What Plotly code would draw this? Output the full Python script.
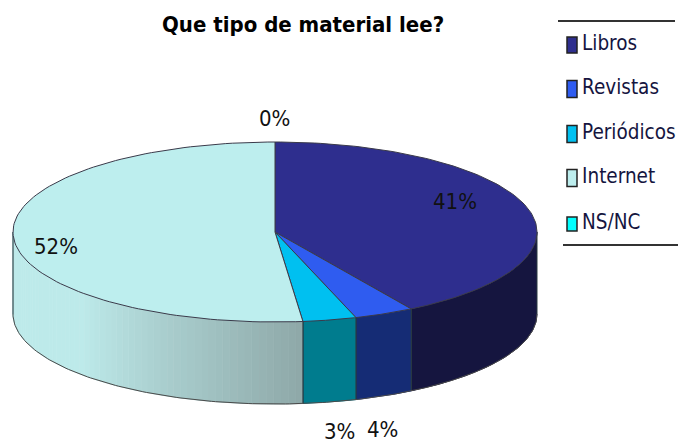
import numpy as np
import plotly.graph_objects as go

categories = ['Libros', 'Revistas', 'Periódicos', 'Internet', 'NS/NC']
values = [41.3, 3.7, 3.3, 51.7, 0.0]
top_colors = ['#2e2e8e', '#2f5cf0', '#00c0f0', '#bdeeee', '#00ffff']
side_dark = ['#15153f', '#152c75', '#007c8e', '#8fa9a9', '#00a0a0']
side_mid = ['#15153f', '#152c75', '#007c8e', '#bdeaea', '#00a0a0']

title = 'Que tipo de material lee?'
label_pos = [(455, 201), (382, 429), (339, 431), (56, 246), (274, 118)]
legend_y = [45, 89, 134, 178, 224]
swatch_h = [16, 17, 17, 17, 14]

# pie geometry in px of the window
cx, cy, rx, ry, depth = 275, 232, 262, 90, 82
FONT = 'DejaVu Sans Condensed, DejaVu Sans'
EDGE = '#4a4a4a'


def ring(a):
    # a = clockwise from 12 o'clock, radians
    return cx + rx * np.sin(a), cy - ry * np.cos(a)


def mix(c1, c2, t):
    a = [int(c1[i:i + 2], 16) for i in (1, 3, 5)]
    b = [int(c2[i:i + 2], 16) for i in (1, 3, 5)]
    return '#%02x%02x%02x' % tuple(round(p + (q - p) * t) for p, q in zip(a, b))


def poly(xs, ys, fill, line=None, width=1):
    return go.Scatter(x=xs, y=ys, mode='lines', fill='toself', fillcolor=fill,
                      line=dict(color=line or fill, width=width), hoverinfo='skip',
                      showlegend=False)


fig = go.Figure()
edges = np.cumsum([0] + values) / sum(values) * 2 * np.pi

# side wall, only the front half shows
for i, name in enumerate(categories):
    a0, a1 = max(edges[i], np.pi / 2), min(edges[i + 1], 3 * np.pi / 2)
    if a1 <= a0:
        continue
    n = 60 if name == 'Internet' else 1
    steps = np.linspace(a0, a1, n + 1)
    for s0, s1 in zip(steps[:-1], steps[1:]):
        x, y = ring(np.linspace(s0, s1, 4 if n > 1 else 60))
        xs = np.concatenate([x, x[::-1]])
        ys = np.concatenate([y, y[::-1] + depth])
        t = (s0 - a0) / (a1 - a0)
        if name == 'Internet':
            # shaded towards the cut and at the far left
            col = mix(side_dark[i], side_mid[i], min(t / 0.55, 1)) if t < 0.55 else side_mid[i]
            if t > 0.93:
                col = mix(side_mid[i], '#a6cfcf', (t - 0.93) / 0.07)
        else:
            col = side_mid[i]
        fig.add_trace(poly(xs, ys, col))
    for a in (a0, a1):
        x, y = ring(a)
        fig.add_trace(go.Scatter(x=[x, x], y=[y, y + depth], mode='lines', hoverinfo='skip',
                                 line=dict(color='#2a3a40', width=1), showlegend=False))

# bottom outline of the wall
arc = np.linspace(np.pi / 2, 3 * np.pi / 2, 200)
x, y = ring(arc)
fig.add_trace(go.Scatter(x=x, y=y + depth, mode='lines', hoverinfo='skip',
                         line=dict(color=EDGE, width=1), showlegend=False))

# top face
for i, v in enumerate(values):
    if v == 0:
        continue
    x, y = ring(np.linspace(edges[i], edges[i + 1], 120))
    fig.add_trace(poly(np.r_[cx, x, cx], np.r_[cy, y, cy], top_colors[i], '#3a3a4a', 1))

annotations = [dict(x=303, y=24, text=f'<b>{title}</b>', showarrow=False,
                    font=dict(family=FONT, size=22, color='#000000'))]
for v, (lx, ly) in zip(values, label_pos):
    annotations.append(dict(x=lx, y=ly, text=f'{round(v)}%', showarrow=False,
                            font=dict(family=FONT, size=22, color='#111111')))
shapes = [dict(type='line', x0=558, x1=675, y0=21, y1=21, line=dict(color='#333333', width=2)),
          dict(type='line', x0=563, x1=678, y0=245, y1=245, line=dict(color='#333333', width=2))]
for name, col, ly, h in zip(categories, top_colors, legend_y, swatch_h):
    shapes.append(dict(type='rect', x0=567, x1=577, y0=ly - h / 2, y1=ly + h / 2,
                       fillcolor=col, line=dict(color='#222222', width=1.5)))
    annotations.append(dict(x=580, y=ly - 2, text=name, showarrow=False, xanchor='left',
                            font=dict(family=FONT, size=20.5, color='#15153f')))

fig.update_layout(width=678, height=444, margin=dict(l=0, r=0, t=0, b=0),
                  paper_bgcolor='white', plot_bgcolor='white', showlegend=False,
                  shapes=shapes, annotations=annotations,
                  xaxis=dict(range=[0, 678], visible=False, fixedrange=True),
                  yaxis=dict(range=[444, 0], visible=False, fixedrange=True))
fig.write_html('out.html', config=dict(displayModeBar=False),
               post_script="document.body.style.margin='0';document.body.style.overflow='hidden';")
